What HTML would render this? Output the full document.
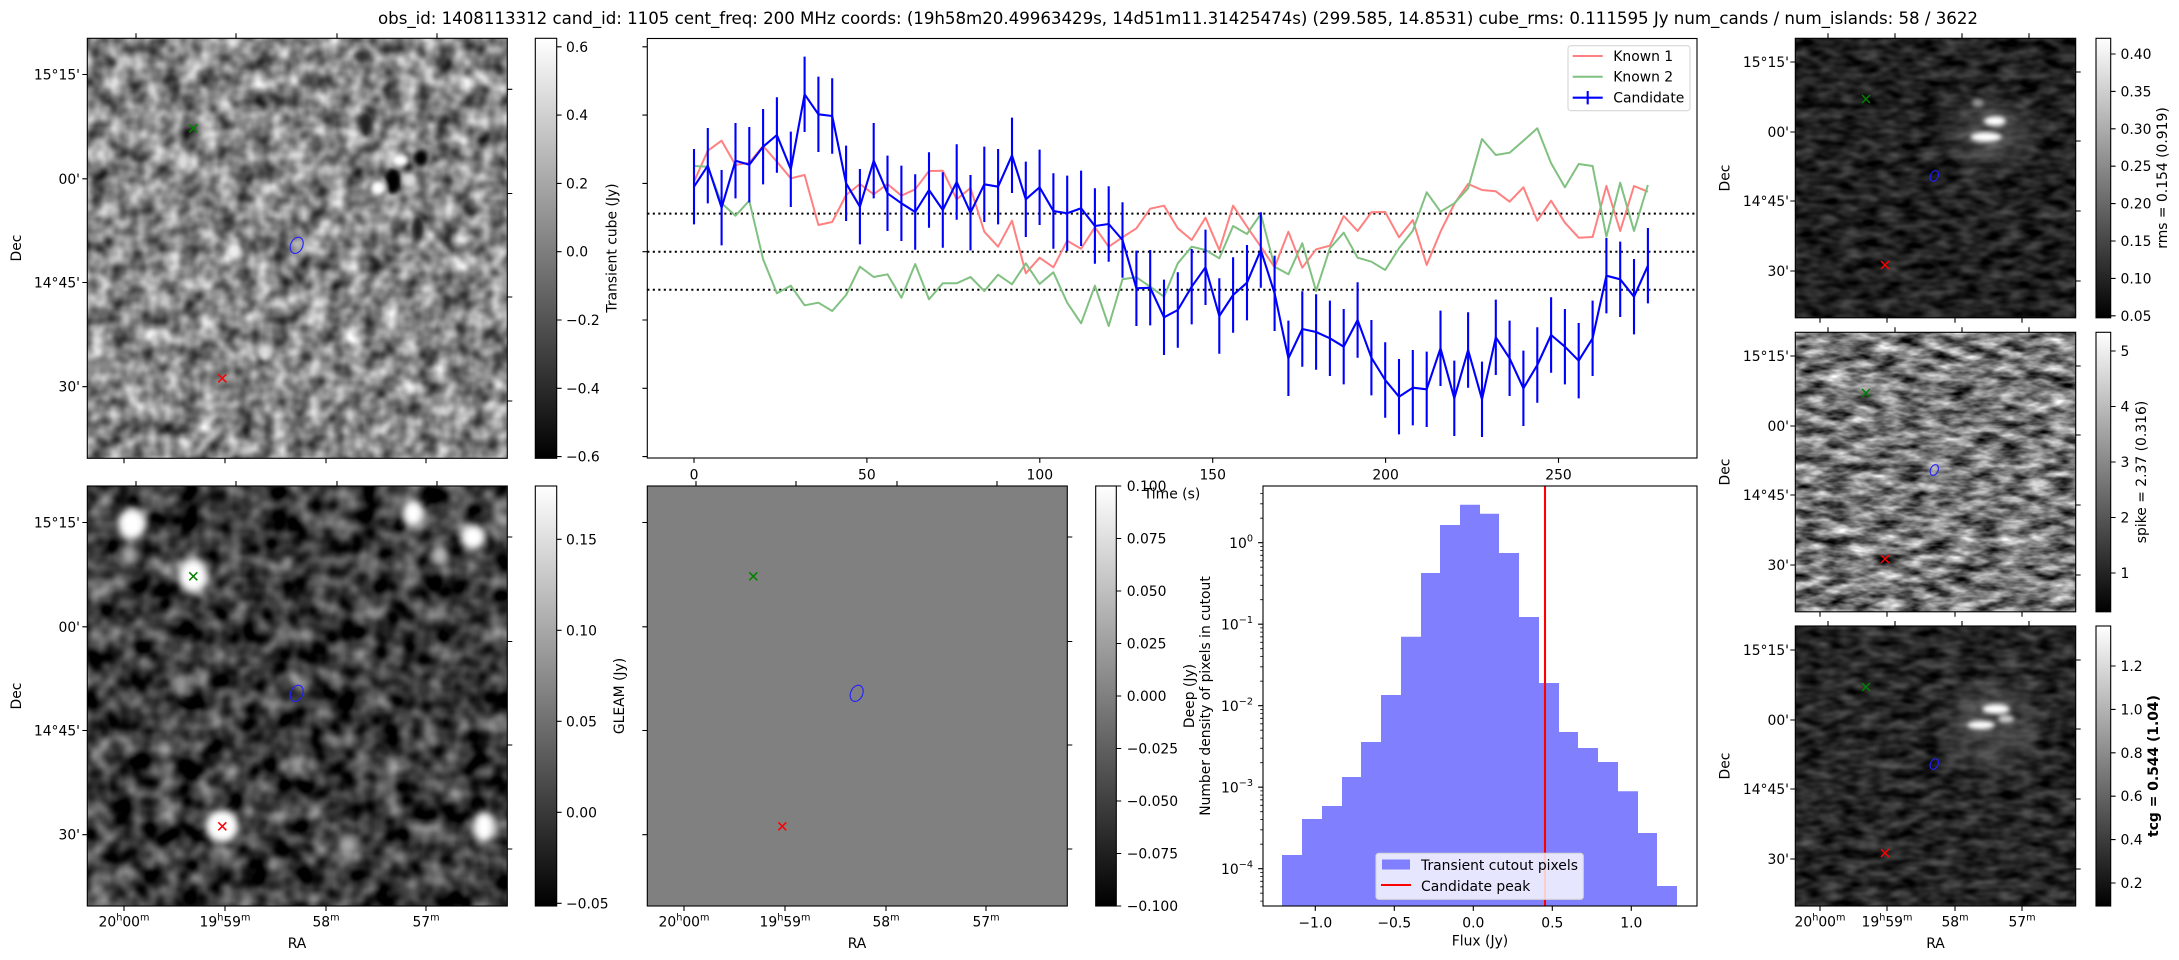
<!DOCTYPE html>
<html><head><meta charset="utf-8"><style>
html,body{margin:0;padding:0;background:#fff;}
svg{display:block;}
text{font-family:"DejaVu Sans","Liberation Sans",sans-serif;font-size:13.9px;fill:#000;}
</style></head><body>
<svg width="2179" height="960" viewBox="0 0 2179 960" xmlns="http://www.w3.org/2000/svg">
<defs>
<linearGradient id="gBW" x1="0" y1="1" x2="0" y2="0"><stop offset="0" stop-color="#000"/><stop offset="1" stop-color="#fff"/></linearGradient>
<filter id="nTL" x="0" y="0" width="1" height="1" color-interpolation-filters="sRGB"><feTurbulence type="fractalNoise" baseFrequency="0.055" numOctaves="2" seed="4"/><feColorMatrix type="matrix" values="1.15 0 0 0 -0.05 1.15 0 0 0 -0.05 1.15 0 0 0 -0.05 0 0 0 0 1"/></filter>
<filter id="nBL" x="0" y="0" width="1" height="1" color-interpolation-filters="sRGB"><feTurbulence type="fractalNoise" baseFrequency="0.045" numOctaves="2" seed="11"/><feColorMatrix type="matrix" values="1.05 0 0 0 -0.3 1.05 0 0 0 -0.3 1.05 0 0 0 -0.3 0 0 0 0 1"/></filter>
<filter id="nRMS" x="0" y="0" width="1" height="1" color-interpolation-filters="sRGB"><feTurbulence type="fractalNoise" baseFrequency="0.05 0.1" numOctaves="2" seed="7"/><feColorMatrix type="matrix" values="0.5 0 0 0 -0.12 0.5 0 0 0 -0.12 0.5 0 0 0 -0.12 0 0 0 0 1"/></filter>
<filter id="nSP" x="0" y="0" width="1" height="1" color-interpolation-filters="sRGB"><feTurbulence type="fractalNoise" baseFrequency="0.04 0.11" numOctaves="3" seed="21"/><feColorMatrix type="matrix" values="1.4 0 0 0 -0.23 1.4 0 0 0 -0.23 1.4 0 0 0 -0.23 0 0 0 0 1"/></filter>
<filter id="nTCG" x="0" y="0" width="1" height="1" color-interpolation-filters="sRGB"><feTurbulence type="fractalNoise" baseFrequency="0.05 0.1" numOctaves="2" seed="15"/><feColorMatrix type="matrix" values="0.5 0 0 0 -0.1 0.5 0 0 0 -0.1 0.5 0 0 0 -0.1 0 0 0 0 1"/></filter>
<filter id="b2" x="-50%" y="-50%" width="200%" height="200%"><feGaussianBlur stdDeviation="2.5"/></filter>
<filter id="b4" x="-50%" y="-50%" width="200%" height="200%"><feGaussianBlur stdDeviation="4"/></filter>
<filter id="b10" x="-50%" y="-50%" width="200%" height="200%"><feGaussianBlur stdDeviation="10"/></filter>
<clipPath id="cTL"><rect x="87.3" y="38.3" width="420" height="420"/></clipPath>
<clipPath id="cBL"><rect x="87.3" y="486" width="420" height="420"/></clipPath>
<clipPath id="cR1"><rect x="1795.3" y="38.3" width="280.4" height="279.5"/></clipPath>
<clipPath id="cR2"><rect x="1795.3" y="332.3" width="280.4" height="279.5"/></clipPath>
<clipPath id="cR3"><rect x="1795.3" y="626" width="280.4" height="280"/></clipPath>
</defs>
<rect x="0" y="0" width="2179" height="960" fill="#fff"/>

<!-- Title -->
<text x="1178" y="24" text-anchor="middle" style="font-size:16.67px" textLength="1600" lengthAdjust="spacing">obs_id: 1408113312 cand_id: 1105 cent_freq: 200 MHz coords: (19h58m20.49963429s, 14d51m11.31425474s) (299.585, 14.8531) cube_rms: 0.111595 Jy num_cands / num_islands: 58 / 3622</text>

<!-- ============ TOP-LEFT IMAGE ============ -->
<g clip-path="url(#cTL)">
<rect x="87.3" y="38.3" width="420" height="420" fill="#888" filter="url(#nTL)"/>
<g filter="url(#b2)">
<ellipse cx="393" cy="181" rx="8" ry="13" fill="#000"/>
<ellipse cx="400" cy="160" rx="8" ry="6" fill="#fff"/>
<ellipse cx="378" cy="188" rx="7" ry="7" fill="#fff"/>
<ellipse cx="421" cy="158" rx="7" ry="8" fill="#000"/>
<ellipse cx="409" cy="181" rx="5" ry="6" fill="#ddd"/>
<ellipse cx="366" cy="125" rx="6" ry="12" fill="#222"/>
<ellipse cx="418" cy="228" rx="6" ry="12" fill="#222"/>
<ellipse cx="362" cy="56" rx="7" ry="6" fill="#333"/>
<ellipse cx="234" cy="251" rx="7" ry="8" fill="#eee"/>
<ellipse cx="183" cy="162" rx="6" ry="8" fill="#ddd"/>
<ellipse cx="265" cy="353" rx="6" ry="8" fill="#ddd"/>
</g>
</g>
<path d="M189.3,124.3L197.3,132.3M197.3,124.3L189.3,132.3" stroke="#008000" stroke-width="1.5" fill="none"/>
<path d="M218.3,374.3L226.3,382.3M226.3,374.3L218.3,382.3" stroke="#ff0000" stroke-width="1.5" fill="none"/>
<ellipse cx="296.7" cy="245.3" rx="6" ry="8.5" transform="rotate(25 296.7 245.3)" fill="none" stroke="#2020ff" stroke-width="1.1"/>
<rect x="87.3" y="38.3" width="420" height="420" fill="none" stroke="#000" stroke-width="1.1"/>
<path d="M136,33.3V38.3M236,33.3V38.3M337,33.3V38.3M437,33.3V38.3M124,458.3V463.3M225,458.3V463.3M326,458.3V463.3M426,458.3V463.3M82.3,74.5H87.3M82.3,178.8H87.3M82.3,282.5H87.3M82.3,386.7H87.3M507.3,89.3H512.3M507.3,193.5H512.3M507.3,297H512.3M507.3,401H512.3" stroke="#000" stroke-width="1.1"/>
<text x="80" y="79.5" text-anchor="end">15°15'</text>
<text x="80" y="183.8" text-anchor="end">00'</text>
<text x="80" y="287.5" text-anchor="end">14°45'</text>
<text x="80" y="391.7" text-anchor="end">30'</text>
<text transform="translate(16,248) rotate(-90)" text-anchor="middle" dy="0.35em">Dec</text>

<!-- TL colorbar -->
<rect x="535.3" y="38.3" width="21.4" height="420" fill="url(#gBW)" stroke="#000" stroke-width="1.1"/>
<path d="M556.7,46.8h4.9M556.7,115.1h4.9M556.7,183.4h4.9M556.7,251.7h4.9M556.7,320h4.9M556.7,388.3h4.9M556.7,456.6h4.9" stroke="#000" stroke-width="1.1"/>
<text x="566" y="51.8">0.6</text>
<text x="566" y="120.1">0.4</text>
<text x="566" y="188.4">0.2</text>
<text x="566" y="256.7">0.0</text>
<text x="566" y="325">−0.2</text>
<text x="566" y="393.3">−0.4</text>
<text x="566" y="461.6">−0.6</text>
<text transform="translate(611.7,248) rotate(-90)" text-anchor="middle" dy="0.35em">Transient cube (Jy)</text>

<!-- ============ LIGHT CURVE ============ -->
<path d="M647.3,213.6H1697M647.3,251.7H1697M647.3,289.8H1697" stroke="#000" stroke-width="2" stroke-dasharray="2.1 3.4" fill="none"/>
<polyline fill="none" stroke="#ff8080" stroke-width="2" stroke-linejoin="round" points="694,181.7 707.8,150.7 721.6,140.7 735.5,165 749.3,162.7 763.1,146 776.9,161.7 790.8,178.3 804.6,175 818.4,225 832.2,222 846.1,195 859.9,184 873.7,194.3 887.5,184 901.4,195.7 915.2,189.3 929,171 942.8,170.7 956.7,199.3 970.5,188 984.3,231.7 998.1,246.7 1012,220.7 1025.8,273.3 1039.6,257.7 1053.4,267.3 1067.2,240.7 1081.1,248.7 1094.9,227.3 1108.7,246.7 1122.5,237.3 1136.4,228.3 1150.2,208.7 1164,205.7 1177.8,228.3 1191.7,240 1205.5,217.7 1219.3,250 1233.1,205.7 1247,226.7 1260.8,246.7 1274.6,267.3 1288.4,231.7 1302.3,267.7 1316.1,249.3 1329.9,245.7 1343.7,216 1357.6,231 1371.4,212.3 1385.2,212 1399,237.3 1412.8,220 1426.7,265 1440.5,231.7 1454.3,204 1468.1,184 1482,190 1495.8,191.3 1509.6,201.7 1523.4,187.3 1537.3,220.7 1551.1,200.7 1564.9,222.7 1578.7,237.7 1592.6,237 1606.4,186 1620.2,231 1634,186 1647.9,191.7"/>
<polyline fill="none" stroke="#80c080" stroke-width="2" stroke-linejoin="round" points="694,166 707.8,166.7 721.6,203.3 735.5,215.7 749.3,200.7 763.1,259.3 776.9,293.3 790.8,285.7 804.6,305.3 818.4,302.7 832.2,311 846.1,295 859.9,266.7 873.7,277 887.5,274.3 901.4,297.7 915.2,264 929,299.3 942.8,283.3 956.7,283.3 970.5,277 984.3,291 998.1,274.7 1012,284.3 1025.8,263.3 1039.6,284 1053.4,272.3 1067.2,302.7 1081.1,323.3 1094.9,285.7 1108.7,326 1122.5,279.3 1136.4,277.3 1150.2,286.7 1164,296.7 1177.8,263.3 1191.7,246.7 1205.5,250 1219.3,258.3 1233.1,226 1247,234 1260.8,214 1274.6,266.7 1288.4,274.3 1302.3,243.3 1316.1,291 1329.9,248.3 1343.7,232.7 1357.6,257.7 1371.4,261.7 1385.2,270 1399,248.3 1412.8,230.7 1426.7,192.3 1440.5,211.7 1454.3,203.3 1468.1,188.3 1482,139 1495.8,155 1509.6,152.7 1523.4,140.7 1537.3,128.3 1551.1,163.3 1564.9,187.3 1578.7,164 1592.6,166 1606.4,236.7 1620.2,182.7 1634,231 1647.9,185"/>
<path fill="none" stroke="#0000ff" stroke-width="2.1" d="M694,149V224.4M707.8,128V203.4M721.6,170V245.4M735.5,123V198.4M749.3,127V202.4M763.1,109V184.4M776.9,97.3V172.7M790.8,131.6V207M804.6,56.6V132M818.4,76.6V152M832.2,78.3V153.7M846.1,145.6V221M859.9,169V244.4M873.7,123V198.4M887.5,155.6V231M901.4,165.6V241M915.2,174.3V249.7M929,152.3V227.7M942.8,172.3V247.7M956.7,144.3V219.7M970.5,175V250.4M984.3,146.6V222M998.1,149V224.4M1012,117.6V193M1025.8,161.6V237M1039.6,149.6V225M1053.4,173.3V248.7M1067.2,175.6V251M1081.1,170.6V246M1094.9,188.3V263.7M1108.7,186.3V261.7M1122.5,202.3V277.7M1136.4,250.6V326M1150.2,250V325.4M1164,279.6V355M1177.8,272.3V347.7M1191.7,249V324.4M1205.5,229.6V305M1219.3,278.3V353.7M1233.1,257.3V332.7M1247,245V320.4M1260.8,212.3V287.7M1274.6,255.6V331M1288.4,320.6V396M1302.3,291.3V366.7M1316.1,294.3V369.7M1329.9,300.6V376M1343.7,309V384.4M1357.6,282.3V357.7M1371.4,320V395.4M1385.2,342.3V417.7M1399,359V434.4M1412.8,350V425.4M1426.7,351.6V427M1440.5,310.6V386M1454.3,360.6V436M1468.1,312.3V387.7M1482,361.6V437M1495.8,299.6V375M1509.6,320.6V396M1523.4,350.6V426M1537.3,327.3V402.7M1551.1,297.3V372.7M1564.9,309V384.4M1578.7,323V398.4M1592.6,300.6V376M1606.4,238V313.4M1620.2,241.6V317M1634,259V334.4M1647.9,228V303.4"/>
<polyline fill="none" stroke="#0000ff" stroke-width="2.1" stroke-linejoin="round" points="694,186.7 707.8,165.7 721.6,207.7 735.5,160.7 749.3,164.7 763.1,146.7 776.9,135 790.8,169.3 804.6,94.3 818.4,114.3 832.2,116 846.1,183.3 859.9,206.7 873.7,160.7 887.5,193.3 901.4,203.3 915.2,212 929,190 942.8,210 956.7,182 970.5,212.7 984.3,184.3 998.1,186.7 1012,155.3 1025.8,199.3 1039.6,187.3 1053.4,211 1067.2,213.3 1081.1,208.3 1094.9,226 1108.7,224 1122.5,240 1136.4,288.3 1150.2,287.7 1164,317.3 1177.8,310 1191.7,286.7 1205.5,267.3 1219.3,316 1233.1,295 1247,282.7 1260.8,250 1274.6,293.3 1288.4,358.3 1302.3,329 1316.1,332 1329.9,338.3 1343.7,346.7 1357.6,320 1371.4,357.7 1385.2,380 1399,396.7 1412.8,387.7 1426.7,389.3 1440.5,348.3 1454.3,398.3 1468.1,350 1482,399.3 1495.8,337.3 1509.6,358.3 1523.4,388.3 1537.3,365 1551.1,335 1564.9,346.7 1578.7,360.7 1592.6,338.3 1606.4,275.7 1620.2,279.3 1634,296.7 1647.9,265.7"/>
<rect x="647.3" y="38.5" width="1049.7" height="419.5" fill="none" stroke="#000" stroke-width="1.1"/>
<path d="M642.4,46.8h4.9M642.4,115.1h4.9M642.4,183.4h4.9M642.4,251.7h4.9M642.4,320h4.9M642.4,388.3h4.9M642.4,456.6h4.9M694,458V462.9M866.9,458V462.9M1039.8,458V462.9M1212.7,458V462.9M1385.6,458V462.9M1558.5,458V462.9" stroke="#000" stroke-width="1.1"/>
<text x="694" y="479.3" text-anchor="middle">0</text>
<text x="866.9" y="479.3" text-anchor="middle">50</text>
<text x="1039.8" y="479.3" text-anchor="middle">100</text>
<text x="1212.7" y="479.3" text-anchor="middle">150</text>
<text x="1385.6" y="479.3" text-anchor="middle">200</text>
<text x="1558.5" y="479.3" text-anchor="middle">250</text>
<text x="1172" y="498.5" text-anchor="middle">Time (s)</text>
<!-- LC legend -->
<rect x="1568" y="45.7" width="122" height="65" rx="2.8" fill="#fff" fill-opacity="0.8" stroke="#d6d6d6" stroke-width="1.1"/>
<path d="M1572.7,56H1602.7" stroke="#ff8080" stroke-width="2"/>
<path d="M1572.7,76.7H1602.7" stroke="#80c080" stroke-width="2"/>
<path d="M1572.7,97.7H1602.7M1587.7,91V104.4" stroke="#0000ff" stroke-width="2.1"/>
<text x="1613.3" y="61">Known 1</text>
<text x="1613.3" y="81.7">Known 2</text>
<text x="1613.3" y="102.7">Candidate</text>

<!-- ============ BOTTOM-LEFT IMAGE ============ -->
<g clip-path="url(#cBL)">
<rect x="87.3" y="486" width="420" height="420" fill="#444" filter="url(#nBL)"/>
<g filter="url(#b4)">
<ellipse cx="132" cy="524" rx="14" ry="16" fill="#fff"/>
<ellipse cx="129" cy="555" rx="8" ry="10" fill="#aaa"/>
<ellipse cx="193" cy="576" rx="15" ry="17" fill="#fff"/>
<ellipse cx="413" cy="513" rx="11" ry="14" fill="#fff"/>
<ellipse cx="473" cy="537" rx="13" ry="13" fill="#fff"/>
<ellipse cx="440" cy="555" rx="8" ry="10" fill="#bbb"/>
<ellipse cx="222" cy="826" rx="17" ry="17" fill="#fff"/>
<ellipse cx="484" cy="827" rx="11" ry="16" fill="#fff"/>
<ellipse cx="348" cy="845" rx="10" ry="9" fill="#aaa"/>
<ellipse cx="181" cy="686" rx="7" ry="12" fill="#999"/>
</g>
</g>
<path d="M189.3,572.3L197.3,580.3M197.3,572.3L189.3,580.3" stroke="#008000" stroke-width="1.5" fill="none"/>
<path d="M218.3,822.3L226.3,830.3M226.3,822.3L218.3,830.3" stroke="#ff0000" stroke-width="1.5" fill="none"/>
<ellipse cx="296.7" cy="693.3" rx="6" ry="8.5" transform="rotate(25 296.7 693.3)" fill="none" stroke="#2020ff" stroke-width="1.1"/>
<rect x="87.3" y="486" width="420" height="420" fill="none" stroke="#000" stroke-width="1.1"/>
<path d="M136,481V486M236,481V486M337,481V486M437,481V486M124,906V911M225,906V911M326,906V911M426,906V911M82.3,522.5H87.3M82.3,626.8H87.3M82.3,730.5H87.3M82.3,834.7H87.3M507.3,537H512.3M507.3,641.5H512.3M507.3,745H512.3M507.3,849H512.3" stroke="#000" stroke-width="1.1"/>
<text x="80" y="527.5" text-anchor="end">15°15'</text>
<text x="80" y="631.8" text-anchor="end">00'</text>
<text x="80" y="735.5" text-anchor="end">14°45'</text>
<text x="80" y="839.7" text-anchor="end">30'</text>
<text transform="translate(16,696) rotate(-90)" text-anchor="middle" dy="0.35em">Dec</text>
<text x="124" y="926.7" text-anchor="middle">20<tspan dy="-6" font-size="9.7">h</tspan><tspan dy="6">00</tspan><tspan dy="-6" font-size="9.7">m</tspan></text>
<text x="225" y="926.7" text-anchor="middle">19<tspan dy="-6" font-size="9.7">h</tspan><tspan dy="6">59</tspan><tspan dy="-6" font-size="9.7">m</tspan></text>
<text x="326" y="926.7" text-anchor="middle">58<tspan dy="-6" font-size="9.7">m</tspan></text>
<text x="426" y="926.7" text-anchor="middle">57<tspan dy="-6" font-size="9.7">m</tspan></text>
<text x="297" y="948" text-anchor="middle">RA</text>

<!-- BL colorbar -->
<rect x="535.3" y="486" width="21.4" height="420" fill="url(#gBW)" stroke="#000" stroke-width="1.1"/>
<path d="M556.7,539.3h4.9M556.7,630.3h4.9M556.7,721.3h4.9M556.7,812.3h4.9M556.7,903.3h4.9" stroke="#000" stroke-width="1.1"/>
<text x="566" y="544.3">0.15</text>
<text x="566" y="635.3">0.10</text>
<text x="566" y="726.3">0.05</text>
<text x="566" y="817.3">0.00</text>
<text x="566" y="908.3">−0.05</text>
<text transform="translate(619,696) rotate(-90)" text-anchor="middle" dy="0.35em">GLEAM (Jy)</text>

<!-- ============ GLEAM PANEL ============ -->
<rect x="647.3" y="486" width="420" height="420" fill="#808080"/>
<path d="M749.3,572.3L757.3,580.3M757.3,572.3L749.3,580.3" stroke="#008000" stroke-width="1.5" fill="none"/>
<path d="M778.3,822.3L786.3,830.3M786.3,822.3L778.3,830.3" stroke="#ff0000" stroke-width="1.5" fill="none"/>
<ellipse cx="856.7" cy="693.3" rx="6" ry="8.5" transform="rotate(25 856.7 693.3)" fill="none" stroke="#2020ff" stroke-width="1.1"/>
<rect x="647.3" y="486" width="420" height="420" fill="none" stroke="#000" stroke-width="1.1"/>
<path d="M696,481V486M796,481V486M897,481V486M997,481V486M684,906V911M785,906V911M886,906V911M986,906V911M642.3,522.5H647.3M642.3,626.8H647.3M642.3,730.5H647.3M642.3,834.7H647.3M1067.3,537H1072.3M1067.3,641.5H1072.3M1067.3,745H1072.3M1067.3,849H1072.3" stroke="#000" stroke-width="1.1"/>
<text x="684" y="926.7" text-anchor="middle">20<tspan dy="-6" font-size="9.7">h</tspan><tspan dy="6">00</tspan><tspan dy="-6" font-size="9.7">m</tspan></text>
<text x="785" y="926.7" text-anchor="middle">19<tspan dy="-6" font-size="9.7">h</tspan><tspan dy="6">59</tspan><tspan dy="-6" font-size="9.7">m</tspan></text>
<text x="886" y="926.7" text-anchor="middle">58<tspan dy="-6" font-size="9.7">m</tspan></text>
<text x="986" y="926.7" text-anchor="middle">57<tspan dy="-6" font-size="9.7">m</tspan></text>
<text x="857" y="948" text-anchor="middle">RA</text>

<!-- GLEAM colorbar -->
<rect x="1095.7" y="486" width="20.6" height="420" fill="url(#gBW)" stroke="#000" stroke-width="1.1"/>
<path d="M1116.3,486h4.9M1116.3,538.5h4.9M1116.3,591h4.9M1116.3,643.5h4.9M1116.3,696h4.9M1116.3,748.5h4.9M1116.3,801h4.9M1116.3,853.5h4.9M1116.3,906h4.9" stroke="#000" stroke-width="1.1"/>
<text x="1126.7" y="491">0.100</text>
<text x="1126.7" y="543.5">0.075</text>
<text x="1126.7" y="596">0.050</text>
<text x="1126.7" y="648.5">0.025</text>
<text x="1126.7" y="701">0.000</text>
<text x="1126.7" y="753.5">−0.025</text>
<text x="1126.7" y="806">−0.050</text>
<text x="1126.7" y="858.5">−0.075</text>
<text x="1126.7" y="911">−0.100</text>
<text transform="translate(1189,696) rotate(-90)" text-anchor="middle" dy="0.35em">Deep (Jy)</text>

<!-- ============ HISTOGRAM ============ -->
<path fill="#8080ff" d="M1282,906V855H1302V819H1322V806H1342V777H1361V742H1381V695H1401V636.7H1421V573H1440V525H1460V504.7H1480V513.7H1499V553H1519V617H1539V683H1559V732H1578V748H1598V762H1618V791.3H1638V833H1657V886H1677V906Z"/>
<path d="M1545,486V906" stroke="#ff0000" stroke-width="2.1"/>
<rect x="1376" y="853.3" width="207.3" height="46" rx="2.8" fill="#fff" fill-opacity="0.8" stroke="#d6d6d6" stroke-width="1.1"/>
<rect x="1382" y="859.5" width="28" height="10" fill="#8080ff"/>
<path d="M1381,885H1411" stroke="#ff0000" stroke-width="2.1"/>
<text x="1421" y="870">Transient cutout pixels</text>
<text x="1421" y="891">Candidate peak</text>
<rect x="1263" y="486" width="434" height="420" fill="none" stroke="#000" stroke-width="1.1"/>
<path d="M1258.1,542.7h4.9M1258.1,624.2h4.9M1258.1,705.7h4.9M1258.1,787.2h4.9M1258.1,868.7h4.9M1315.3,906V910.9M1394.3,906V910.9M1473.3,906V910.9M1552.3,906V910.9M1631.3,906V910.9" stroke="#000" stroke-width="1.1"/>
<path d="M1260.2,901.1h2.8M1260.2,893.2h2.8M1260.2,886.8h2.8M1260.2,881.3h2.8M1260.2,876.6h2.8M1260.2,872.4h2.8M1260.2,844.2h2.8M1260.2,829.8h2.8M1260.2,819.6h2.8M1260.2,811.7h2.8M1260.2,805.3h2.8M1260.2,799.8h2.8M1260.2,795.1h2.8M1260.2,790.9h2.8M1260.2,762.7h2.8M1260.2,748.3h2.8M1260.2,738.1h2.8M1260.2,730.2h2.8M1260.2,723.8h2.8M1260.2,718.3h2.8M1260.2,713.6h2.8M1260.2,709.4h2.8M1260.2,681.2h2.8M1260.2,666.8h2.8M1260.2,656.6h2.8M1260.2,648.7h2.8M1260.2,642.3h2.8M1260.2,636.8h2.8M1260.2,632.1h2.8M1260.2,627.9h2.8M1260.2,599.7h2.8M1260.2,585.3h2.8M1260.2,575.1h2.8M1260.2,567.2h2.8M1260.2,560.8h2.8M1260.2,555.3h2.8M1260.2,550.6h2.8M1260.2,546.4h2.8M1260.2,518.2h2.8M1260.2,503.8h2.8M1260.2,493.6h2.8" stroke="#000" stroke-width="0.8"/>
<text x="1253" y="548" text-anchor="end">10<tspan dy="-6.5" font-size="9.7">0</tspan></text>
<text x="1253" y="629.5" text-anchor="end">10<tspan dy="-6.5" font-size="9.7">−1</tspan></text>
<text x="1253" y="711" text-anchor="end">10<tspan dy="-6.5" font-size="9.7">−2</tspan></text>
<text x="1253" y="792.5" text-anchor="end">10<tspan dy="-6.5" font-size="9.7">−3</tspan></text>
<text x="1253" y="874" text-anchor="end">10<tspan dy="-6.5" font-size="9.7">−4</tspan></text>
<text x="1315.3" y="927.5" text-anchor="middle">−1.0</text>
<text x="1394.3" y="927.5" text-anchor="middle">−0.5</text>
<text x="1473.3" y="927.5" text-anchor="middle">0.0</text>
<text x="1552.3" y="927.5" text-anchor="middle">0.5</text>
<text x="1631.3" y="927.5" text-anchor="middle">1.0</text>
<text x="1480" y="945.5" text-anchor="middle">Flux (Jy)</text>
<text transform="translate(1205,696) rotate(-90)" text-anchor="middle" dy="0.35em">Number density of pixels in cutout</text>

<!-- ============ RIGHT COLUMN ============ -->
<!-- rms -->
<g clip-path="url(#cR1)">
<rect x="1795.3" y="38.3" width="280.4" height="279.5" fill="#222" filter="url(#nRMS)"/>
<ellipse cx="1990" cy="135" rx="40" ry="35" fill="#777" opacity="0.4" filter="url(#b10)"/>
<g filter="url(#b2)">
<ellipse cx="1995" cy="121" rx="11" ry="5" fill="#fff"/>
<ellipse cx="1986" cy="137" rx="16" ry="5" fill="#fff"/>
<ellipse cx="1978" cy="103" rx="6" ry="4" fill="#999"/>
</g>
</g>
<path d="M1862,95L1870,103M1870,95L1862,103" stroke="#008000" stroke-width="1.5" fill="none"/>
<path d="M1881,261L1889,269M1889,261L1881,269" stroke="#ff0000" stroke-width="1.5" fill="none"/>
<ellipse cx="1934.3" cy="176" rx="3.8" ry="5.6" transform="rotate(25 1934.3 176)" fill="none" stroke="#2020ff" stroke-width="1.1"/>
<rect x="1795.3" y="38.3" width="280.4" height="279.5" fill="none" stroke="#000" stroke-width="1.1"/>
<path d="M1828,33.3V38.3M1895,33.3V38.3M1962,33.3V38.3M2029,33.3V38.3M1820,317.8V322.8M1887,317.8V322.8M1955,317.8V322.8M2022,317.8V322.8M1790.3,62H1795.3M1790.3,132H1795.3M1790.3,201H1795.3M1790.3,271H1795.3M2075.7,72H2080.7M2075.7,141H2080.7M2075.7,211H2080.7M2075.7,281H2080.7" stroke="#000" stroke-width="1.1"/>
<text x="1789" y="67" text-anchor="end">15°15'</text>
<text x="1789" y="137" text-anchor="end">00'</text>
<text x="1789" y="206" text-anchor="end">14°45'</text>
<text x="1789" y="276" text-anchor="end">30'</text>
<text transform="translate(1724.5,178) rotate(-90)" text-anchor="middle" dy="0.35em">Dec</text>
<rect x="2096" y="38.3" width="14.7" height="279.5" fill="url(#gBW)" stroke="#000" stroke-width="1.1"/>
<path d="M2110.7,54h4.9M2110.7,91.4h4.9M2110.7,128.8h4.9M2110.7,166.2h4.9M2110.7,203.6h4.9M2110.7,241h4.9M2110.7,278.4h4.9M2110.7,315.8h4.9" stroke="#000" stroke-width="1.1"/>
<text x="2120.5" y="59">0.40</text>
<text x="2120.5" y="96.4">0.35</text>
<text x="2120.5" y="133.8">0.30</text>
<text x="2120.5" y="171.2">0.25</text>
<text x="2120.5" y="208.6">0.20</text>
<text x="2120.5" y="246">0.15</text>
<text x="2120.5" y="283.4">0.10</text>
<text x="2120.5" y="320.8">0.05</text>
<text transform="translate(2162,178) rotate(-90)" text-anchor="middle" dy="0.35em">rms = 0.154 (0.919)</text>

<!-- spike -->
<g clip-path="url(#cR2)">
<rect x="1795.3" y="332.3" width="280.4" height="279.5" fill="#777" filter="url(#nSP)"/>
</g>
<path d="M1862,389L1870,397M1870,389L1862,397" stroke="#008000" stroke-width="1.5" fill="none"/>
<path d="M1881,555L1889,563M1889,555L1881,563" stroke="#ff0000" stroke-width="1.5" fill="none"/>
<ellipse cx="1934.3" cy="470" rx="3.8" ry="5.6" transform="rotate(25 1934.3 470)" fill="none" stroke="#2020ff" stroke-width="1.1"/>
<rect x="1795.3" y="332.3" width="280.4" height="279.5" fill="none" stroke="#000" stroke-width="1.1"/>
<path d="M1828,327.3V332.3M1895,327.3V332.3M1962,327.3V332.3M2029,327.3V332.3M1820,611.8V616.8M1887,611.8V616.8M1955,611.8V616.8M2022,611.8V616.8M1790.3,356H1795.3M1790.3,426H1795.3M1790.3,495H1795.3M1790.3,565H1795.3M2075.7,366H2080.7M2075.7,435H2080.7M2075.7,505H2080.7M2075.7,575H2080.7" stroke="#000" stroke-width="1.1"/>
<text x="1789" y="361" text-anchor="end">15°15'</text>
<text x="1789" y="431" text-anchor="end">00'</text>
<text x="1789" y="500" text-anchor="end">14°45'</text>
<text x="1789" y="570" text-anchor="end">30'</text>
<text transform="translate(1724.5,472) rotate(-90)" text-anchor="middle" dy="0.35em">Dec</text>
<rect x="2096" y="332.3" width="14.7" height="279.5" fill="url(#gBW)" stroke="#000" stroke-width="1.1"/>
<path d="M2110.7,351h4.9M2110.7,406.5h4.9M2110.7,462h4.9M2110.7,517.5h4.9M2110.7,573h4.9" stroke="#000" stroke-width="1.1"/>
<text x="2120.5" y="356">5</text>
<text x="2120.5" y="411.5">4</text>
<text x="2120.5" y="467">3</text>
<text x="2120.5" y="522.5">2</text>
<text x="2120.5" y="578">1</text>
<text transform="translate(2141,472) rotate(-90)" text-anchor="middle" dy="0.35em">spike = 2.37 (0.316)</text>

<!-- tcg -->
<g clip-path="url(#cR3)">
<rect x="1795.3" y="626" width="280.4" height="280" fill="#262626" filter="url(#nTCG)"/>
<ellipse cx="1990" cy="725" rx="45" ry="45" fill="#777" opacity="0.35" filter="url(#b10)"/>
<g filter="url(#b2)">
<ellipse cx="1996" cy="709" rx="14" ry="5" fill="#fff"/>
<ellipse cx="1981" cy="725" rx="14" ry="4.5" fill="#fff"/>
<ellipse cx="2006" cy="719" rx="8" ry="4" fill="#ccc"/>
</g>
</g>
<path d="M1862,683L1870,691M1870,683L1862,691" stroke="#008000" stroke-width="1.5" fill="none"/>
<path d="M1881,849L1889,857M1889,849L1881,857" stroke="#ff0000" stroke-width="1.5" fill="none"/>
<ellipse cx="1934.3" cy="764" rx="3.8" ry="5.6" transform="rotate(25 1934.3 764)" fill="none" stroke="#2020ff" stroke-width="1.1"/>
<rect x="1795.3" y="626" width="280.4" height="280" fill="none" stroke="#000" stroke-width="1.1"/>
<path d="M1828,621V626M1895,621V626M1962,621V626M2029,621V626M1820,906V911M1887,906V911M1955,906V911M2022,906V911M1790.3,650H1795.3M1790.3,720H1795.3M1790.3,789H1795.3M1790.3,859H1795.3M2075.7,660H2080.7M2075.7,729H2080.7M2075.7,799H2080.7M2075.7,869H2080.7" stroke="#000" stroke-width="1.1"/>
<text x="1789" y="655" text-anchor="end">15°15'</text>
<text x="1789" y="725" text-anchor="end">00'</text>
<text x="1789" y="794" text-anchor="end">14°45'</text>
<text x="1789" y="864" text-anchor="end">30'</text>
<text transform="translate(1724.5,766) rotate(-90)" text-anchor="middle" dy="0.35em">Dec</text>
<text x="1820" y="926.7" text-anchor="middle">20<tspan dy="-6" font-size="9.7">h</tspan><tspan dy="6">00</tspan><tspan dy="-6" font-size="9.7">m</tspan></text>
<text x="1887" y="926.7" text-anchor="middle">19<tspan dy="-6" font-size="9.7">h</tspan><tspan dy="6">59</tspan><tspan dy="-6" font-size="9.7">m</tspan></text>
<text x="1955" y="926.7" text-anchor="middle">58<tspan dy="-6" font-size="9.7">m</tspan></text>
<text x="2022" y="926.7" text-anchor="middle">57<tspan dy="-6" font-size="9.7">m</tspan></text>
<text x="1935.5" y="948" text-anchor="middle">RA</text>
<rect x="2096" y="626" width="14.7" height="280" fill="url(#gBW)" stroke="#000" stroke-width="1.1"/>
<path d="M2110.7,666h4.9M2110.7,709.4h4.9M2110.7,752.8h4.9M2110.7,796.2h4.9M2110.7,839.6h4.9M2110.7,883h4.9" stroke="#000" stroke-width="1.1"/>
<text x="2120.5" y="671">1.2</text>
<text x="2120.5" y="714.4">1.0</text>
<text x="2120.5" y="757.8">0.8</text>
<text x="2120.5" y="801.2">0.6</text>
<text x="2120.5" y="844.6">0.4</text>
<text x="2120.5" y="888">0.2</text>
<text transform="translate(2153,766) rotate(-90)" text-anchor="middle" dy="0.35em" font-weight="bold">tcg = 0.544 (1.04)</text>
</svg>
</body></html>
